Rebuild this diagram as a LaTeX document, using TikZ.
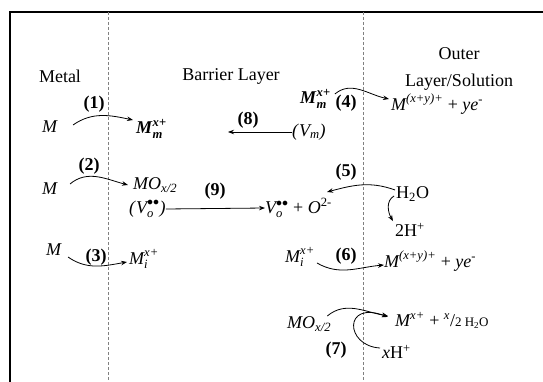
\documentclass[tikz,border=0pt]{standalone}
\usepackage{fontspec}
\usepackage{amsmath}
\setmainfont{Liberation Serif}
\usetikzlibrary{calc,arrows.meta}
\newcommand\mi[1]{\textit{#1}}
\newcommand\mb[1]{\textbf{\textit{#1}}}
\begin{document}
\begin{tikzpicture}[x=1pt,y=-1pt,
  every node/.style={inner sep=0pt,font=\fontsize{18}{27}\selectfont},
  num/.style={font=\fontsize{18}{27}\selectfont\bfseries},
  arr/.style={line width=0.8pt,-{Stealth[length=6pt,width=4.5pt]}},
  sep/.style={gray,line width=0.7pt,dash pattern=on 3pt off 2pt},
  frame/.style={line width=1.2pt}]
\useasboundingbox (0,0) rectangle (543,382);
% frame and separators
\draw[frame] (10,382) -- (10,12) -- (543,12);
\draw[sep] (108,12) -- (108,382);
\draw[sep] (363,12) -- (363,382);
% headings
\node (metal) at (60,76) {Metal};
\node (barrier) at (231,76) {Barrier Layer};
\node[align=center] (outer) at (459,69) {Outer\\Layer/Solution};
% row 1
\node (m1) at (50,127) {\mi{M}};
\node[num] (n1) at (94,104) {(1)};
\node[anchor=west] (mm1) at (136,129) {$\mb{M}_{\mb{m}}^{\mb{x}\textbf{+}}$};
\draw[arr] ($(m1)+(23,-2)$) to[out=35,in=168] ($(mm1.west)+(-3,-9)$);
\node[num] (n8) at (248,120) {(8)};
\node[anchor=west] (vm) at (292,132) {\mi{(}$\mi{V}_{\mi{m}}$\mi{)}};
\coordinate (e8) at (228,132);
\draw[arr] (vm.west) -- (e8);
\node[anchor=west] (mm2) at (300,99) {$\mb{M}_{\mb{m}}^{\mb{x}\textbf{+}}$};
\node[num] (n4) at (346,103) {(4)};
\node[anchor=west] (p4) at (391,104) {$\mi{M}^{\mi{(x+y)+}}$ + $\mi{ye}^{\text{-}}$};
\draw[arr] ($(mm2.east)+(4,-5)$) to[out=40,in=168] ($(p4.west)+(-2,-5)$);
% row 2
\node (m2) at (50,189) {\mi{M}};
\node[num] (n2) at (89,166) {(2)};
\node[anchor=west] (mo2) at (133,185) {$\mi{MO}_{\mi{x/2}}$};
\draw[arr] ($(m2)+(20,-5)$) to[out=40,in=165] ($(mo2.west)+(-5,0)$);
\node[anchor=west] (vo) at (129,209) {\mi{(}$\mi{V}_{\mi{o}}^{\bullet\bullet}$\mi{)}};
\node[num] (n9) at (215,191) {(9)};
\node[anchor=west] (vo2) at (265,208) {$\mi{V}_{\mi{o}}^{\bullet\bullet}$ + $\mi{O}^{\text{2-}}$};
\draw[arr] (vo.east) -- (vo2.west);
\node[num] (n5) at (346,172) {(5)};
\node[anchor=west] (h2o) at (396,194) {H\textsubscript{2}O};
\node[anchor=west] (h2) at (395,230) {2H\textsuperscript{+}};
\draw[arr] ($(h2o.west)+(-1,-4)$) to[out=160,in=15] ($(vo2.east)+(-5,-16)$);
\draw[arr] ($(h2o.west)+(-2,2)$) to[out=210,in=120] ($(h2.north west)+(-2,-2)$);
% row 3
\node (m3) at (54,250) {\mi{M}};
\node[num] (n3) at (96,257) {(3)};
\node[anchor=west] (mi3) at (129,259) {$\mi{M}_{\mi{i}}^{\mi{x+}}$};
\draw[arr] ($(m3)+(14,7)$) to[out=-35,in=190] ($(mi3.west)+(-2,3)$);
\node[anchor=west] (mi6) at (285,257) {$\mi{M}_{\mi{i}}^{\mi{x+}}$};
\node[num] (n6) at (346,256) {(6)};
\node[anchor=west] (p6) at (384,261) {$\mi{M}^{\mi{(x+y)+}}$ + $\mi{ye}^{\text{-}}$};
\draw[arr] ($(mi6.east)+(2,6)$) to[out=-30,in=185] ($(p6.west)+(0,4)$);
% row 4
\node[anchor=west] (mo7) at (287,324) {$\mi{MO}_{\mi{x/2}}$};
\node[anchor=west] (p7) at (395,320) {$\mi{M}^{\mi{x+}}$ + $^{\mi{x}}$/{\fontsize{13}{15}\selectfont 2 H\textsubscript{2}O}};
\node[num] (n7) at (336,350) {(7)};
\node[anchor=west] (xh) at (382,352) {\mi{x}H\textsuperscript{+}};
\draw[arr] ($(mo7.east)+(-4,-8)$) to[out=40,in=170] ($(p7.west)+(-7,-4)$);
\draw[arr] ($(xh.west)+(-2,-4)$) .. controls (345,346) and (343,300) .. ($(p7.west)+(-7,-3)$);
\end{tikzpicture}
\end{document}
